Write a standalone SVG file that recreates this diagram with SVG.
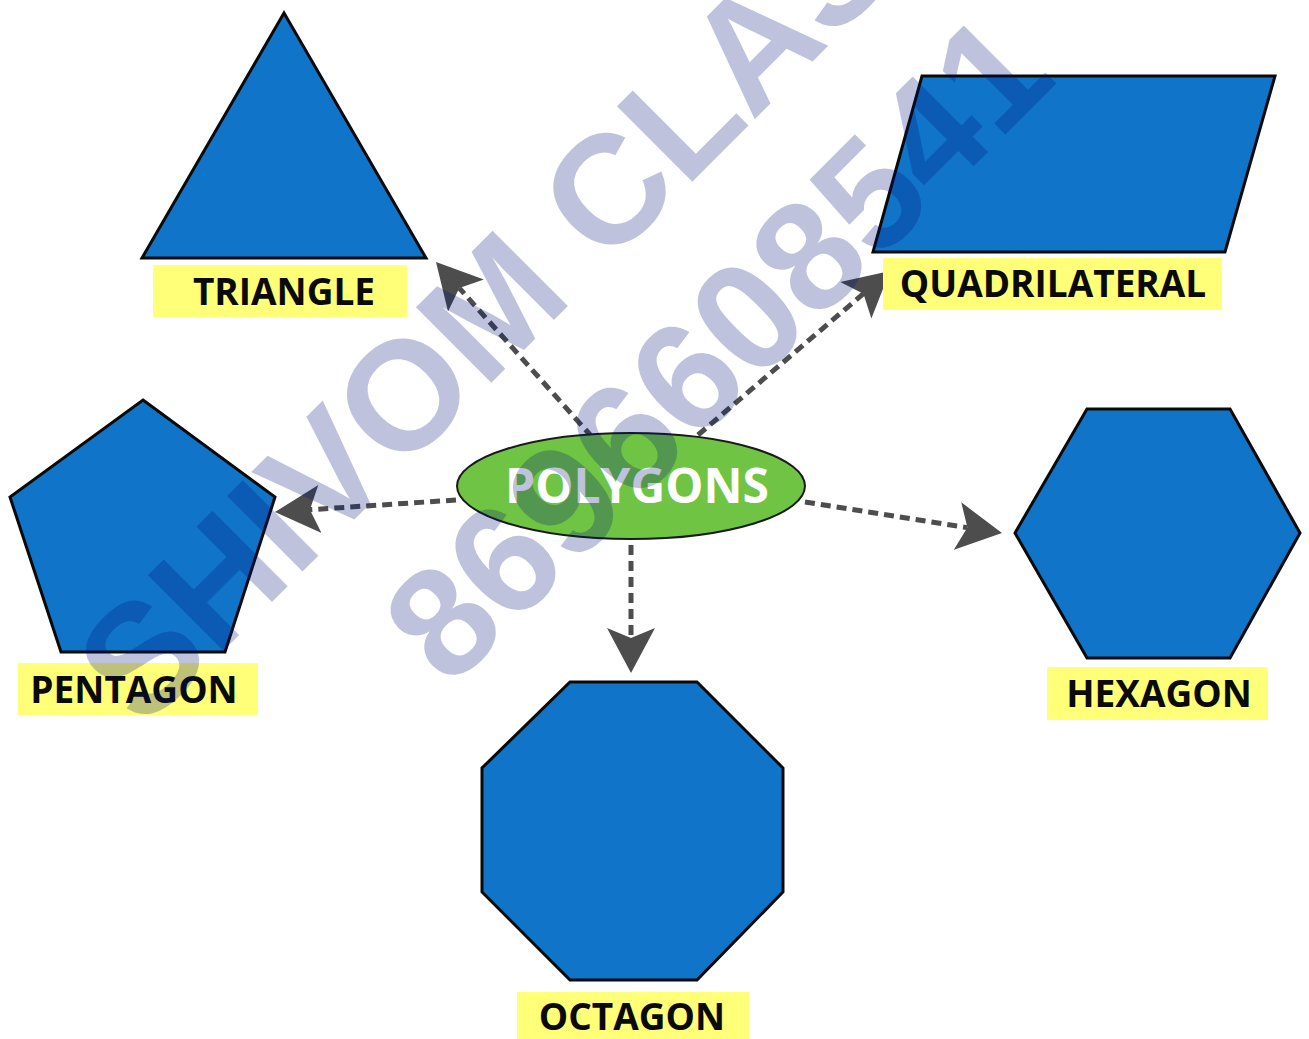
<svg xmlns="http://www.w3.org/2000/svg" width="1309" height="1039" viewBox="0 0 1309 1039">
  <style>
    .shape { fill: #1074c8; stroke: #0a0a0a; stroke-width: 3; stroke-linejoin: miter; }
    .label-bg { fill: #ffff78; }
    .label { font-family: "Open Sans", "DejaVu Sans", sans-serif; font-weight: bold; font-size: 37px; fill: #0a0a0a; text-anchor: middle; }
    .title { font-family: "Open Sans", "DejaVu Sans", sans-serif; font-weight: bold; font-size: 48px; fill: #ffffff; text-anchor: middle; }
    .conn { fill: none; stroke: #4d4d4d; stroke-width: 5; stroke-dasharray: 10 6; }
    .wm { font-family: "Liberation Sans", Arial, sans-serif; font-weight: bold; font-size: 155px; fill: #00127a; }
  </style>
  <defs>
    <marker id="arrow" markerUnits="userSpaceOnUse" viewBox="0 -25 46 50" markerWidth="46" markerHeight="50" refX="10" refY="0" orient="auto">
      <path d="M45,0 L0,-24 L10,0 L0,24 Z" fill="#4d4d4d"/>
    </marker>
  </defs>
  <rect width="1309" height="1039" fill="#ffffff"/>

  <g id="connectors">
    <path class="conn" d="M592,437 L459.3,288.1" marker-end="url(#arrow)"/>
    <path class="conn" d="M698,435 L863.4,293.7" marker-end="url(#arrow)"/>
    <path class="conn" d="M456,500 L309.9,509.7" marker-end="url(#arrow)"/>
    <path class="conn" d="M805,502 L967.4,527.6" marker-end="url(#arrow)"/>
    <path class="conn" d="M631,545 L631,638" marker-end="url(#arrow)"/>
  </g>

  <g id="triangle">
    <polygon class="shape" points="284,13 426,258 142,258"/>
    <rect class="label-bg" x="153" y="265" width="254" height="52"/>
    <text class="label" x="284" y="305">TRIANGLE</text>
  </g>

  <g id="quadrilateral">
    <polygon class="shape" points="922,76 1275,76 1225,252 873,252"/>
    <rect class="label-bg" x="883" y="258" width="339" height="52"/>
    <text class="label" x="1053" y="297">QUADRILATERAL</text>
  </g>

  <g id="pentagon">
    <polygon class="shape" points="143,400 275,497 225,652 61,652 10,497"/>
    <rect class="label-bg" x="18" y="663" width="240" height="52"/>
    <text class="label" x="134" y="703">PENTAGON</text>
  </g>

  <g id="hexagon">
    <polygon class="shape" points="1087,409 1230,409 1300,533 1230,658 1087,658 1015,533"/>
    <rect class="label-bg" x="1047" y="667" width="221" height="53"/>
    <text class="label" x="1159" y="707">HEXAGON</text>
  </g>

  <g id="octagon">
    <polygon class="shape" points="570,682 697,682 783,768 783,892 697,980 570,980 482,892 482,768"/>
    <rect class="label-bg" x="517" y="992" width="232" height="47"/>
    <text class="label" x="632" y="1030">OCTAGON</text>
  </g>

  <g id="polygons">
    <ellipse cx="631" cy="486" rx="174" ry="53" fill="#70c443" stroke="#1a1a1a" stroke-width="2"/>
    <text class="title" x="637" y="503">POLYGONS</text>
  </g>

  <g id="watermark" opacity="0.25">
    <text class="wm" transform="translate(143,731) rotate(-45)" x="0" y="0">SHIVOM CLASSES</text>
    <text class="wm" transform="translate(450,690) rotate(-45)" x="0" y="0">8696608541</text>
  </g>
</svg>
